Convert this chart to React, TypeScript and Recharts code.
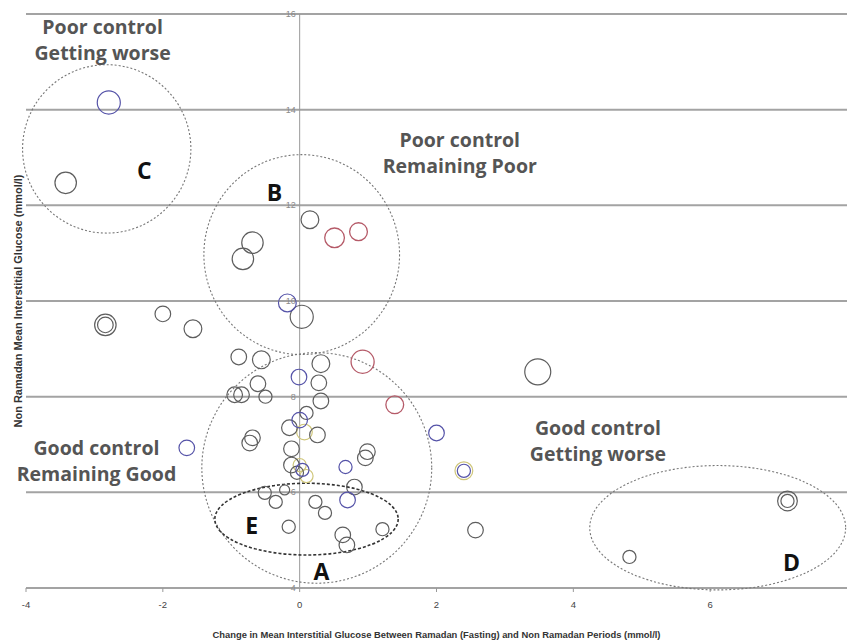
import {
  CartesianGrid,
  ReferenceDot,
  ReferenceLine,
  Scatter,
  ScatterChart,
  XAxis,
  YAxis,
  ZAxis,
} from 'recharts'

const X_TICKS = [-4, -2, 0, 2, 4, 6]
const Y_TICKS = [4, 6, 8, 10, 12, 14, 16]

// x: change Ramadan vs non-Ramadan, y: non-Ramadan mean, z: bubble size
const GREY_POINTS = [
  { x: 0.15, y: 11.7, z: 8 },
  { x: -0.69, y: 11.22, z: 10 },
  { x: -0.83, y: 10.88, z: 10 },
  { x: 0.03, y: 9.67, z: 11 },
  { x: -2.84, y: 9.5, z: 10 },
  { x: -2.84, y: 9.5, z: 7 },
  { x: -2.0, y: 9.73, z: 7 },
  { x: -1.56, y: 9.42, z: 8 },
  { x: -0.89, y: 8.83, z: 7 },
  { x: -0.56, y: 8.77, z: 8 },
  { x: -0.61, y: 8.27, z: 7 },
  { x: -0.95, y: 8.04, z: 7 },
  { x: -0.85, y: 8.04, z: 7 },
  { x: -0.5, y: 8.0, z: 6 },
  { x: 0.31, y: 8.69, z: 8 },
  { x: 0.28, y: 8.29, z: 7 },
  { x: 0.31, y: 7.91, z: 7 },
  { x: 0.1, y: 7.66, z: 6 },
  { x: -0.15, y: 7.35, z: 7 },
  { x: 0.26, y: 7.2, z: 7 },
  { x: -0.69, y: 7.14, z: 7 },
  { x: -0.73, y: 7.03, z: 7 },
  { x: 0.99, y: 6.85, z: 7 },
  { x: 0.96, y: 6.72, z: 7 },
  { x: -0.12, y: 6.91, z: 7 },
  { x: -0.12, y: 6.57, z: 7 },
  { x: -0.04, y: 6.41, z: 6 },
  { x: 0.8, y: 6.11, z: 7 },
  { x: -0.51, y: 5.99, z: 6 },
  { x: -0.22, y: 6.05, z: 5 },
  { x: -0.35, y: 5.8, z: 6 },
  { x: 0.23, y: 5.8, z: 6 },
  { x: 0.37, y: 5.57, z: 6 },
  { x: -0.16, y: 5.28, z: 6 },
  { x: 0.63, y: 5.11, z: 7 },
  { x: 0.69, y: 4.9, z: 7 },
  { x: 1.21, y: 5.23, z: 6 },
  { x: -3.42, y: 12.47, z: 10 },
  { x: 3.48, y: 8.52, z: 13 },
  { x: 2.57, y: 5.21, z: 7 },
  { x: 7.13, y: 5.82, z: 9 },
  { x: 7.13, y: 5.82, z: 6 },
  { x: 4.82, y: 4.65, z: 6 },
]

const BLUE_POINTS = [
  { x: -2.79, y: 14.15, z: 11 },
  { x: -0.18, y: 9.96, z: 8 },
  { x: -0.01, y: 8.41, z: 7 },
  { x: 0.0, y: 7.51, z: 7 },
  { x: 0.67, y: 6.53, z: 6 },
  { x: 0.7, y: 5.84, z: 7 },
  { x: 2.0, y: 7.24, z: 7 },
  { x: 2.4, y: 6.45, z: 6 },
  { x: -1.65, y: 6.93, z: 7 },
  { x: 0.04, y: 6.47, z: 6 },
]

const RED_POINTS = [
  { x: 0.51, y: 11.32, z: 9 },
  { x: 0.86, y: 11.45, z: 8 },
  { x: 0.92, y: 8.73, z: 11 },
  { x: 1.39, y: 7.83, z: 8 },
]

const YELLOW_POINTS = [
  { x: 0.07, y: 7.26, z: 7 },
  { x: 0.0, y: 6.57, z: 6 },
  { x: 0.1, y: 6.34, z: 6 },
  { x: 2.4, y: 6.45, z: 8 },
]

// dashed regions: centre and radii in data units
const REGIONS = [
  { id: 'C', x: -2.82, y: 13.18, rx: 1.23, ry: 1.76, dark: false },
  { id: 'B', x: 0.03, y: 10.97, rx: 1.43, ry: 2.09, dark: false },
  { id: 'A', x: 0.25, y: 6.51, rx: 1.68, ry: 2.41, dark: false },
  { id: 'E', x: 0.1, y: 5.44, rx: 1.34, ry: 0.75, dark: true },
  { id: 'D', x: 6.11, y: 5.26, rx: 1.87, ry: 1.3, dark: false },
]

const LETTERS = [
  { text: 'C', x: -2.27, y: 12.74 },
  { text: 'B', x: -0.37, y: 12.28 },
  { text: 'E', x: -0.7, y: 5.32 },
  { text: 'A', x: 0.32, y: 4.36 },
  { text: 'D', x: 7.19, y: 4.54 },
]

const QUADRANT_NOTES = [
  { lines: ['Poor control', 'Getting worse'], x: -2.88, y: 15.46 },
  { lines: ['Poor control', 'Remaining Poor'], x: 2.34, y: 13.09 },
  { lines: ['Good control', 'Remaining Good'], x: -2.97, y: 6.66 },
  { lines: ['Good control', 'Getting worse'], x: 4.36, y: 7.07 },
]

const WIDTH = 849
const HEIGHT = 643
const MARGIN = { top: 14, right: 2, bottom: 0, left: 26 }
const X_AXIS_HEIGHT = 55
const PLOT_W = WIDTH - MARGIN.left - MARGIN.right
const PLOT_H = HEIGHT - MARGIN.top - MARGIN.bottom - X_AXIS_HEIGHT
const PX_PER_X = PLOT_W / 12
const PX_PER_Y = PLOT_H / 12

const FONT = '"Open Sans", "Noto Sans", sans-serif'
const AXIS_FONT = 'Liberation Sans Narrow, Liberation Sans, Arial'

// y tick labels sit next to the x = 0 line, like the original
const yTickShape = (value: number) => (p: any) => (
  <text
    x={p.cx - 4}
    y={p.cy}
    textAnchor="end"
    dominantBaseline="central"
    fontSize={9}
    fontFamily={AXIS_FONT}
    fill="#8a8a8a"
  >
    {value}
  </text>
)

const regionShape = (rx: number, ry: number, dark: boolean) => (p: any) => (
  <ellipse
    cx={p.cx}
    cy={p.cy}
    rx={rx * PX_PER_X}
    ry={ry * PX_PER_Y}
    fill="none"
    stroke={dark ? '#333' : '#777'}
    strokeWidth={dark ? 1.6 : 1.1}
    strokeDasharray={dark ? '3 2' : '2 2'}
  />
)

const letterShape = (text: string) => (p: any) => (
  <text
    x={p.cx}
    y={p.cy}
    textAnchor="middle"
    dominantBaseline="central"
    fontFamily={FONT}
    fontWeight={700}
    fontSize={23}
    fill="#111"
  >
    {text}
  </text>
)

const noteShape = (lines: string[]) => (p: any) => (
  <text
    x={p.cx}
    y={p.cy}
    textAnchor="middle"
    fontFamily={FONT}
    fontWeight={700}
    fontSize={19.5}
    fill="#555"
  >
    {lines.map((l, i) => (
      <tspan key={l} x={p.cx} y={p.cy + (i === 0 ? -6 : 20)}>
        {l}
      </tspan>
    ))}
  </text>
)

export default function App() {
  return (
    <div style={{ position: 'absolute', left: 0, top: 0, background: '#fff' }}>
      <ScatterChart width={WIDTH} height={HEIGHT} margin={MARGIN}>
        <CartesianGrid
          horizontal
          vertical={false}
          stroke="#a3a3a3"
          strokeWidth={2}
        />
        <XAxis
          type="number"
          dataKey="x"
          domain={[-4, 8]}
          ticks={X_TICKS}
          allowDataOverflow
          height={X_AXIS_HEIGHT}
          axisLine={{ stroke: '#a3a3a3', strokeWidth: 2 }}
          tickLine={{ stroke: '#999' }}
          tickSize={4}
          tickMargin={9}
          tick={{ fontSize: 9.5, fill: '#444', fontFamily: AXIS_FONT }}
          label={{
            value:
              'Change in Mean Interstitial Glucose Between Ramadan (Fasting) and Non Ramadan Periods (mmol/l)',
            position: 'insideBottom',
            offset: 5,
            style: {
              fontSize: 9.4,
              fontWeight: 700,
              fill: '#333',
              fontFamily: AXIS_FONT,
            },
          }}
        />
        <YAxis
          type="number"
          dataKey="y"
          domain={[4, 16]}
          ticks={Y_TICKS}
          hide
        />
        <ZAxis type="number" dataKey="z" domain={[5, 13]} range={[79, 531]} />
        <ReferenceLine x={0} stroke="#9a9a9a" strokeWidth={1} />
        {Y_TICKS.map((t) => (
          <ReferenceDot
            key={t}
            x={0}
            y={t}
            r={1}
            ifOverflow="visible"
            shape={yTickShape(t)}
          />
        ))}
        {REGIONS.map((r) => (
          <ReferenceDot
            key={r.id}
            x={r.x}
            y={r.y}
            r={1}
            shape={regionShape(r.rx, r.ry, r.dark)}
          />
        ))}
        <Scatter
          data={YELLOW_POINTS}
          fill="none"
          stroke="#cfc67a"
          strokeWidth={1.2}
          isAnimationActive={false}
        />
        <Scatter
          data={GREY_POINTS}
          fill="none"
          stroke="#5e5e5e"
          strokeWidth={1.2}
          isAnimationActive={false}
        />
        <Scatter
          data={RED_POINTS}
          fill="none"
          stroke="#b55a68"
          strokeWidth={1.3}
          isAnimationActive={false}
        />
        <Scatter
          data={BLUE_POINTS}
          fill="none"
          stroke="#5553a8"
          strokeWidth={1.2}
          isAnimationActive={false}
        />
        {LETTERS.map((l) => (
          <ReferenceDot key={l.text} x={l.x} y={l.y} r={1} shape={letterShape(l.text)} />
        ))}
        {QUADRANT_NOTES.map((n) => (
          <ReferenceDot
            key={n.lines.join()}
            x={n.x}
            y={n.y}
            r={1}
            shape={noteShape(n.lines)}
          />
        ))}
        <text
          transform={`translate(18, ${MARGIN.top + PLOT_H / 2}) rotate(-90)`}
          textAnchor="middle"
          dominantBaseline="central"
          fontSize={11}
          fontWeight={700}
          fill="#333"
          fontFamily={AXIS_FONT}
        >
          Non Ramadan Mean Interstitial Glucose (mmol/l)
        </text>
      </ScatterChart>
    </div>
  )
}
